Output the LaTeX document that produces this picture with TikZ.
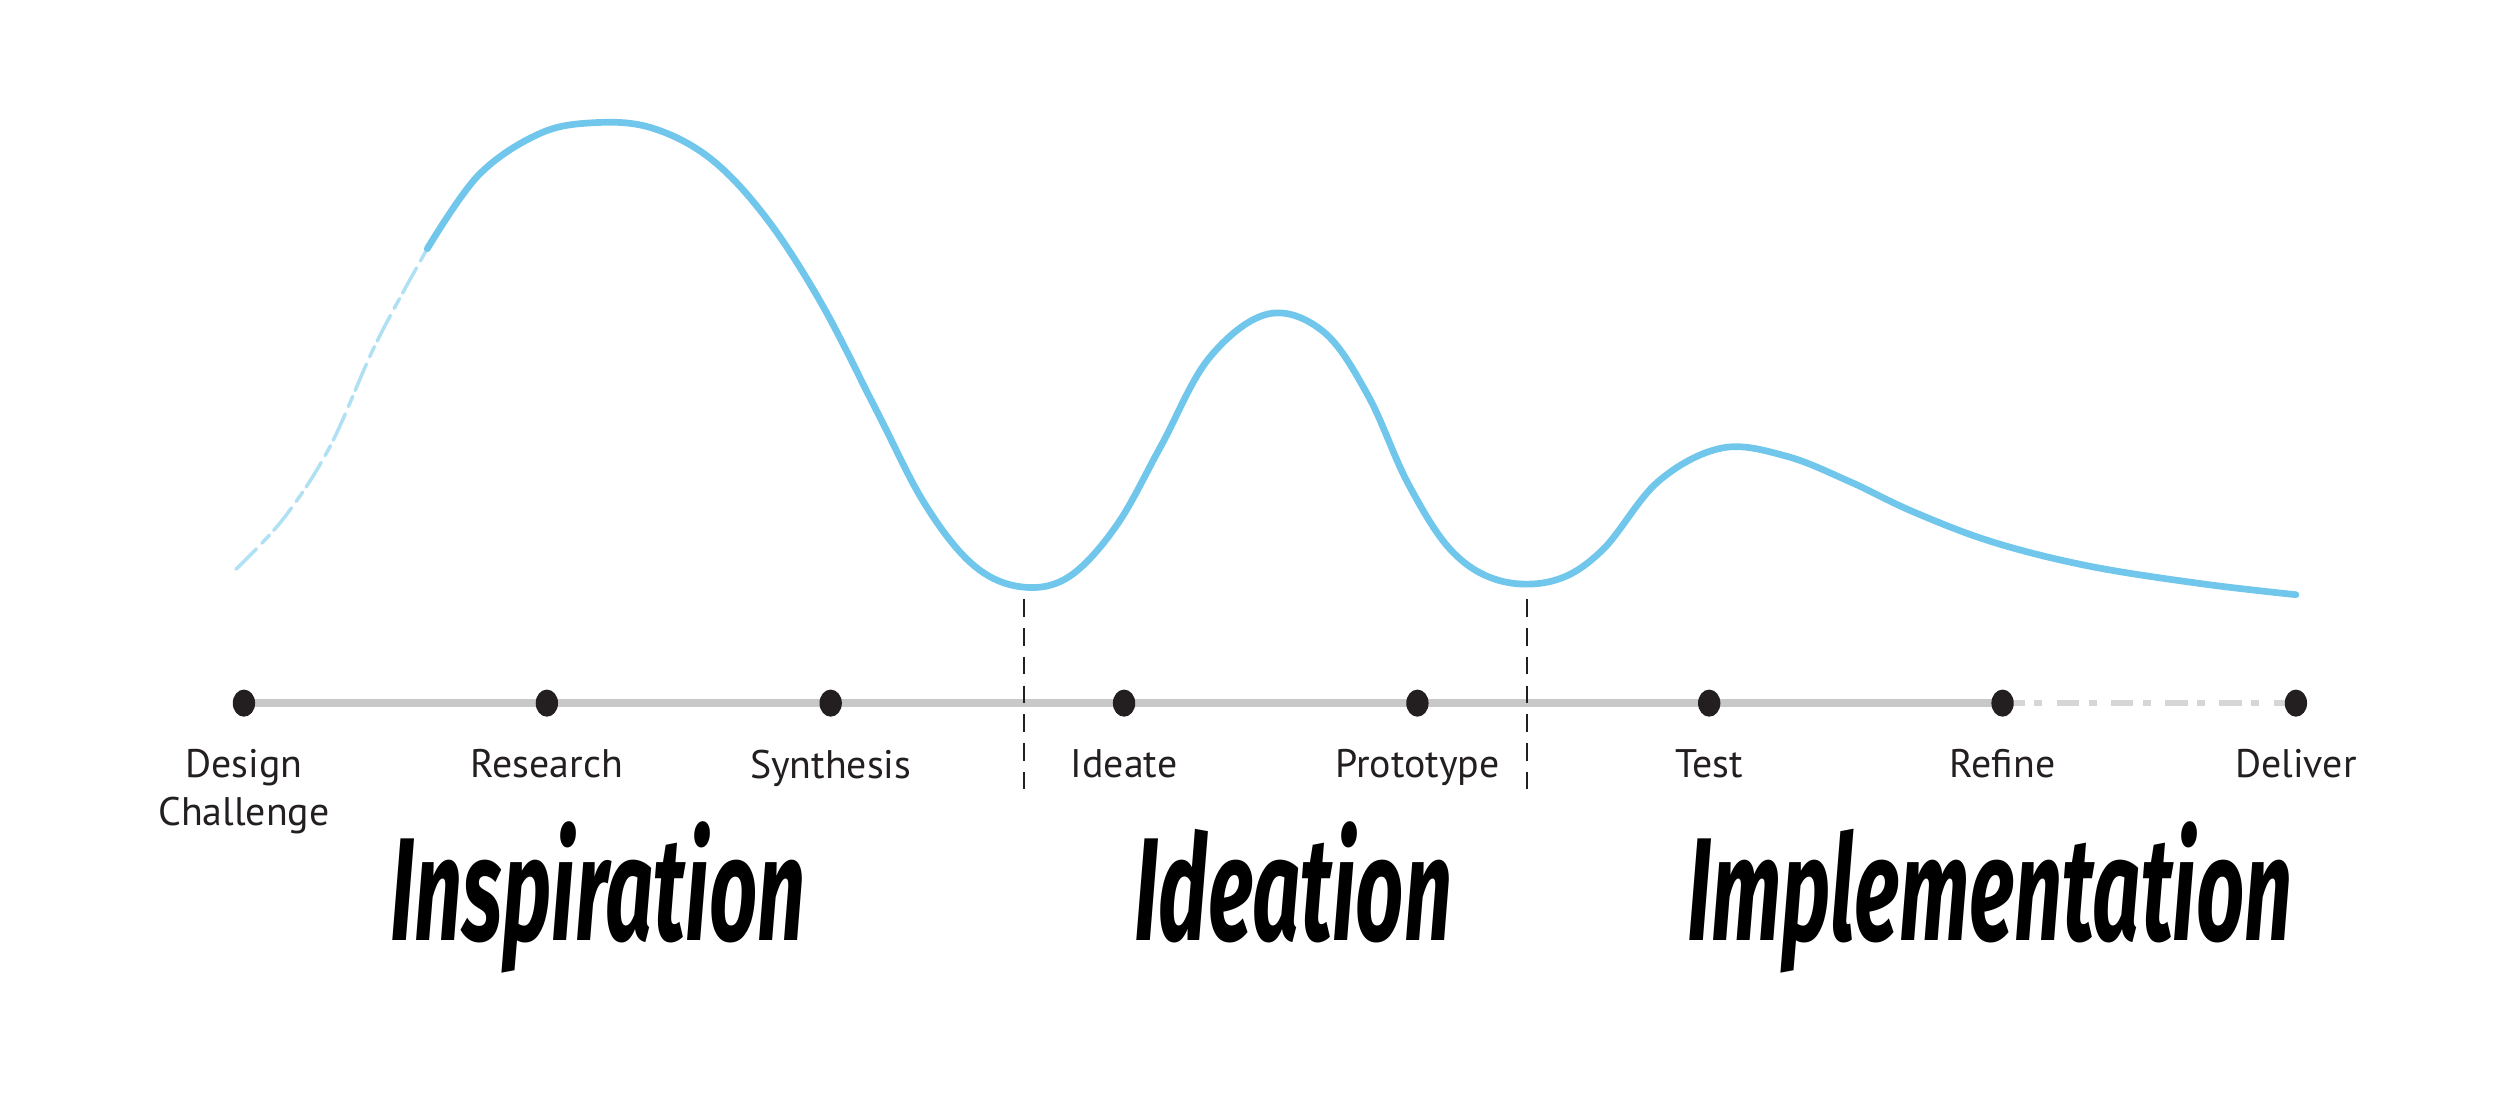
\documentclass[tikz,border=0pt]{standalone}
\usepackage{fontspec}
\setmainfont{PT Sans}
\newfontfamily\brushfont{Fira Sans}
\usetikzlibrary{shapes.geometric}
\definecolor{curveblue}{RGB}{112,198,235}
\definecolor{linegray}{RGB}{200,200,200}
\definecolor{dotblack}{RGB}{35,31,32}
\begin{document}
\begin{tikzpicture}[x=1pt,y=-1pt,
  dotnode/.style={ellipse, fill=dotblack, inner sep=0pt, minimum width=14pt, minimum height=17pt},
  lbl/.style={font=\fontsize{25}{30}\selectfont, text=dotblack, align=center, anchor=north, inner sep=0pt},
  phase/.style={font=\brushfont\bfseries\itshape\fontsize{92}{92}\selectfont, text=black, anchor=base, inner sep=0pt},
  curvemain/.style={draw=curveblue, line width=4.2pt, line cap=round, line join=round},
  curvefaint/.style={draw=curveblue!55, line width=2.2pt, line cap=round, dash pattern=on 18pt off 5pt on 7pt off 4pt},
  baseline/.style={draw=linegray, line width=5pt},
  baselinefaint/.style={draw=linegray!75, line width=3.5pt, dash pattern=on 14pt off 6pt on 5pt off 9pt},
  phasesep/.style={draw=dotblack, line width=1.2pt, dash pattern=on 11pt off 7pt}
]
\useasboundingbox (0,0) rectangle (1568,695.6);

% positions of the steps
\coordinate (p1) at (153,441);
\coordinate (p2) at (343,441);
\coordinate (p3) at (521,441);
\coordinate (p4) at (705,441);
\coordinate (p5) at (889,441);
\coordinate (p6) at (1072,441);
\coordinate (p7) at (1256,441);
\coordinate (p8) at (1440,441);

% timeline
\draw[baseline] (p1) -- (p7);
\draw[baselinefaint] (p7) -- (p8);

% phase separators
\coordinate (s1t) at (642,376);
\coordinate (s1b) at (642,498);
\coordinate (s2t) at (958,376);
\coordinate (s2b) at (958,498);
\draw[phasesep] (s1t) -- (s1b);
\draw[phasesep] (s2t) -- (s2b);

% curve
\draw[curvefaint] plot[smooth, tension=0.6] coordinates {(148,357) (178,325) (207,280) (236,215) (268,156)};
\draw[curvemain] plot[smooth, tension=0.6] coordinates {
 (268,156) (300,110) (338,84) (372,77) (408,80) (445,99) (480,136) (515,190)
 (550,258) (580,316) (610,354) (640,368) (670,362) (700,330) (728,280)
 (758,225) (795,197) (830,208) (858,248) (883,303) (910,345) (940,364)
 (975,364) (1005,345) (1040,302) (1080,281) (1120,286) (1160,302)
 (1200,321) (1250,340) (1310,355) (1380,366) (1440,373)};

% dots
\node[dotnode] (d1) at (p1) {};
\node[dotnode] (d2) at (p2) {};
\node[dotnode] (d3) at (p3) {};
\node[dotnode] (d4) at (p4) {};
\node[dotnode] (d5) at (p5) {};
\node[dotnode] (d6) at (p6) {};
\node[dotnode] (d7) at (p7) {};
\node[dotnode] (d8) at (p8) {};

% labels
\node[lbl] (l1) at (153,470) {Design\\Challenge};
\node[lbl] (l2) at (343,470) {Research};
\node[lbl] (l3) at (521,470) {Synthesis};
\node[lbl] (l4) at (705,470) {Ideate};
\node[lbl] (l5) at (889,470) {Prototype};
\node[lbl] (l6) at (1072,470) {Test};
\node[lbl] (l7) at (1256,470) {Refine};
\node[lbl] (l8) at (1440,470) {Deliver};

% phases
\node[phase] (ph1) at (375,590) {\scalebox{0.575}[1]{Inspiration}};
\node[phase] (ph2) at (811,590) {\scalebox{0.575}[1]{Ideation}};
\node[phase] (ph3) at (1248,590) {\scalebox{0.575}[1]{Implementation}};
\end{tikzpicture}
\end{document}
